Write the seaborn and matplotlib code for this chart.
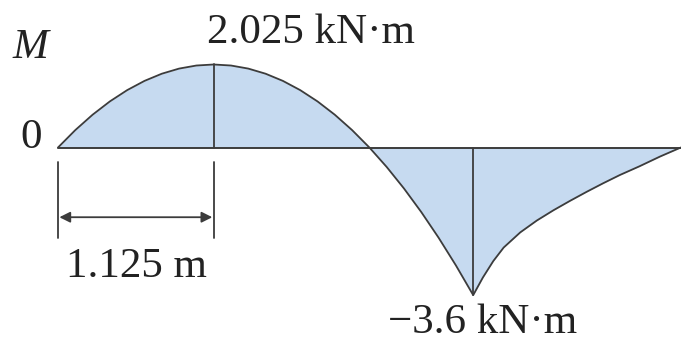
import matplotlib
matplotlib.use("Agg")
import matplotlib.pyplot as plt
import seaborn as sns
import pandas as pd

# Bending-moment diagram M(x) along the beam (x in m, M in kN·m)
x_span1 = [0.0, 0.125, 0.25, 0.375, 0.5, 0.625, 0.75, 0.875, 1.0, 1.125,
           1.25, 1.375, 1.5, 1.625, 1.75, 1.875, 2.0, 2.125, 2.25,
           2.375, 2.5, 2.625, 2.75, 2.875, 3.0]
m_span1 = [0.0, 0.425, 0.8, 1.125, 1.4, 1.625, 1.8, 1.925, 2.0, 2.025,
           2.0, 1.925, 1.8, 1.625, 1.4, 1.125, 0.8, 0.425, 0.0,
           -0.475, -1.0, -1.575, -2.2, -2.875, -3.6]
x_span2 = [3.0, 3.07, 3.145, 3.22, 3.34, 3.46, 3.58, 3.70, 3.82, 3.94,
           4.06, 4.20, 4.35, 4.5]
m_span2 = [-3.6, -3.17, -2.77, -2.44, -2.07, -1.78, -1.53, -1.30, -1.08,
           -0.87, -0.67, -0.46, -0.22, 0.0]

x_max, m_max = 1.125, 2.025
x_min, m_min = 3.0, -3.6
beam_length = 4.5

label_max = "2.025 kN·m"
label_min = "−3.6 kN·m"
label_dim = "1.125 m"

df = pd.DataFrame({"x": x_span1 + x_span2[1:], "M": m_span1 + m_span2[1:]})

sns.set_theme(style="white")
plt.rcParams["font.family"] = ["Liberation Serif", "DejaVu Serif"]

fill_c = "#c6daf0"
line_c = "#3c3c3c"
text_c = "#222222"

fig = plt.figure(figsize=(6.81, 3.46), dpi=100)
ax = fig.add_axes([0, 0, 1, 1])

ax.fill_between(df["x"], df["M"], 0, color=fill_c, linewidth=0)
sns.lineplot(data=df, x="x", y="M", ax=ax, color=line_c, linewidth=1.3,
             sort=False, estimator=None)

# zero line and ordinates at the extreme values
ax.plot([0, beam_length], [0, 0], color=line_c, linewidth=1.4)
ax.plot([x_max, x_max], [0, m_max], color=line_c, linewidth=1.3)
ax.plot([x_min, x_min], [0, m_min], color=line_c, linewidth=1.3)

# dimension line for the location of the maximum
for xx in (0, x_max):
    ax.plot([xx, xx], [-0.35, -2.2], color=line_c, linewidth=1.3)
ax.annotate("", xy=(0.01, -1.70), xytext=(x_max - 0.01, -1.70),
            arrowprops=dict(arrowstyle="<|-|>", color=line_c, lw=1.3,
                            mutation_scale=16, shrinkA=0, shrinkB=0))

fs = 31
ax.text(x_max + 0.70, 2.55, label_max, ha="center", va="baseline",
        fontsize=fs, color=text_c)
ax.text(x_min + 0.07, -4.52, label_min, ha="center", va="baseline",
        fontsize=fs, color=text_c)
ax.text(0.57, -3.15, label_dim, ha="center", va="baseline",
        fontsize=fs, color=text_c)
ax.text(-0.33, 2.18, "M", ha="left", va="baseline", fontsize=fs,
        style="italic", color=text_c)
ax.text(-0.115, 0.0, "0", ha="right", va="baseline", fontsize=fs,
        color=text_c)

ax.set_xlim(-0.419, 4.5014)
ax.set_ylim(-4.841, 3.598)
ax.set_axis_off()

fig.savefig("out.png", dpi=100)
